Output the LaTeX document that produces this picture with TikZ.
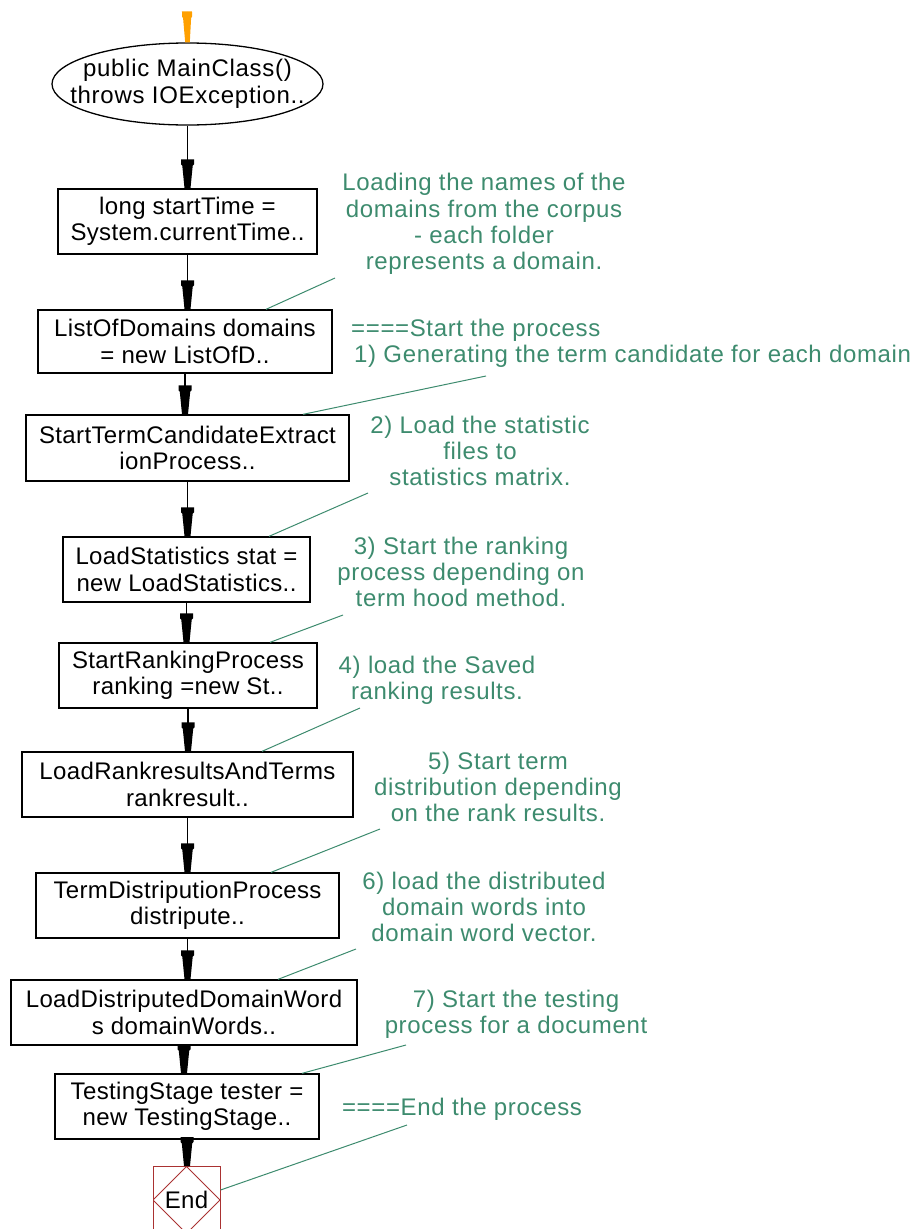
\documentclass[tikz,border=0pt]{standalone}
\usepackage{fontspec}
\setmainfont{Liberation Sans}
\newfontfamily\boxfont[LetterSpace=1.5]{Liberation Sans}
\newfontfamily\notefont[LetterSpace=2.7]{Liberation Sans}
\newfontfamily\startfont[LetterSpace=3]{Liberation Sans}
\usetikzlibrary{shapes.geometric,arrows.meta}

\definecolor{notegreen}{RGB}{61,139,110}
\definecolor{endred}{RGB}{170,50,50}
\definecolor{startorange}{RGB}{255,160,0}

% Blunt, tapered arrow head used by the flow connectors
\pgfdeclarearrow{
  name = Block,
  parameters = {\the\pgfarrowlength,\the\pgfarrowwidth},
  setup code = {
    \pgfarrowssettipend{0pt}
    \pgfarrowssetbackend{-\pgfarrowlength}
    \pgfarrowssetvisualbackend{-\pgfarrowlength}
    \pgfarrowssetlineend{-.5\pgfarrowlength}
    \pgfarrowssavethe\pgfarrowlength
    \pgfarrowssavethe\pgfarrowwidth
  },
  drawing code = {
    \pgfpathmoveto{\pgfpoint{0pt}{.23\pgfarrowwidth}}
    \pgfpathlineto{\pgfpoint{-.78\pgfarrowlength}{.4\pgfarrowwidth}}
    \pgfpathlineto{\pgfpoint{-.83\pgfarrowlength}{.5\pgfarrowwidth}}
    \pgfpathlineto{\pgfpoint{-\pgfarrowlength}{.5\pgfarrowwidth}}
    \pgfpathlineto{\pgfpoint{-\pgfarrowlength}{-.5\pgfarrowwidth}}
    \pgfpathlineto{\pgfpoint{-.83\pgfarrowlength}{-.5\pgfarrowwidth}}
    \pgfpathlineto{\pgfpoint{-.78\pgfarrowlength}{-.4\pgfarrowwidth}}
    \pgfpathlineto{\pgfpoint{0pt}{-.23\pgfarrowwidth}}
    \pgfpathclose
    \pgfusepathqfill
  },
  defaults = {length = 29pt, width = 13pt}
}

\tikzset{
  txt/.style={font=\boxfont\fontsize{24}{26.5}\selectfont, align=center},
  stepbox/.style={txt, rectangle, draw=black, line width=1.3pt, inner sep=0pt},
  startnode/.style={txt, font=\startfont\fontsize{24}{27}\selectfont,
    ellipse, draw=black, line width=1.3pt, inner xsep=-40pt, inner ysep=0pt},
  endnode/.style={txt, rectangle, draw=endred, line width=1pt, inner sep=0pt,
    minimum size=67,
    path picture={\draw[endred, line width=1pt]
      (path picture bounding box.north) -- (path picture bounding box.east) --
      (path picture bounding box.south) -- (path picture bounding box.west) -- cycle;}},
  note/.style={txt, font=\notefont\fontsize{24}{26.3}\selectfont,
    text=notegreen, inner sep=0pt},
  noteline/.style={draw=notegreen, line width=1pt},
  flow/.style={draw=black, line width=1.3pt, -{Block}},
  startflow/.style={draw=startorange, fill=startorange, line width=1pt,
    -{Block[length=31pt, width=10pt]}}
}

\begin{document}
\begin{tikzpicture}[x=1pt, y=-1pt]
  \useasboundingbox (0,0) rectangle (916,1229);

  % entry point
  \coordinate (start) at (187,12);
  \node[startnode, minimum width=271, minimum height=82] (main) at (187.5,84)
    {public MainClass()\\throws IOException..};

  % statement boxes
  \node[stepbox, minimum width=259, minimum height=65] (b1) at (187.5,221.5)
    {long startTime =\\System.currentTime..};
  \node[stepbox, minimum width=294, minimum height=63] (b2) at (185,341.5)
    {ListOfDomains domains\\= new ListOfD..};
  \node[stepbox, minimum width=323, minimum height=66] (b3) at (187.5,448)
    {StartTermCandidateExtract\\ionProcess..};
  \node[stepbox, minimum width=247, minimum height=65] (b4) at (186.5,569.5)
    {LoadStatistics stat =\\new LoadStatistics..};
  \node[stepbox, minimum width=258, minimum height=65] (b5) at (188,675.5)
    {StartRankingProcess\\ranking =new St..};
  \node[stepbox, minimum width=331, minimum height=65] (b6) at (187.5,784.5)
    {LoadRankresultsAndTerms\\rankresult..};
  \node[stepbox, minimum width=303, minimum height=65] (b7) at (187.5,905.5)
    {TermDistriputionProcess\\distripute..};
  \node[stepbox, minimum width=346, minimum height=65] (b8) at (184,1012.5)
    {LoadDistriputedDomainWord\\s domainWords..};
  \node[stepbox, minimum width=264, minimum height=65] (b9) at (187,1106.5)
    {TestingStage tester =\\new TestingStage..};
  \node[endnode] (end) at (186.5,1200) {End};

  % control flow
  \draw[startflow] (start) -- (main.north);
  \draw[flow] (main.south) -- (main.south |- b1.north);
  \draw[flow] (b1.south) -- (b1.south |- b2.north);
  \draw[flow] (b2.south) -- (b2.south |- b3.north);
  \draw[flow] (b3.south) -- (b3.south |- b4.north);
  \draw[flow] (b4.south) -- (b4.south |- b5.north);
  \draw[flow] (b5.south) -- (b5.south |- b6.north);
  \draw[flow] (b6.south) -- (b6.south |- b7.north);
  \draw[flow] (b7.south) -- (b7.south |- b8.north);
  \draw[flow] (b8.south) -- (b8.south |- b9.north);
  \draw[flow] (b9.south) -- (b9.south |- end.north);

  % comments
  \node[note] (c0) at (484,224)
    {Loading the names of the\\domains from the corpus\\- each folder\\represents a domain.};
  \node[note, align=left, anchor=west] (c1) at (351,343)
    {====Start the process\\\hspace*{3pt}1) Generating the term candidate for each domain};
  \node[note] (c2) at (480,451) {2) Load the statistic\\files to\\statistics matrix.};
  \node[note] (c3) at (461,572) {3) Start the ranking\\process depending on\\term hood method.};
  \node[note] (c4) at (437,680) {4) load the Saved\\ranking results.};
  \node[note] (c5) at (498,787) {5) Start term\\distribution depending\\on the rank results.};
  \node[note] (c6) at (484,907) {6) load the distributed\\domain words into\\domain word vector.};
  \node[note] (c7) at (516,1014) {7) Start the testing\\process for a document};
  \node[note] (c8) at (462,1109) {====End the process};

  % comment anchors
  \coordinate (n0) at (335,278);
  \coordinate (n1) at (486,376);
  \coordinate (n2) at (368,493);
  \coordinate (n3) at (343,615);
  \coordinate (n4) at (360,708);
  \coordinate (n5) at (380,829);
  \coordinate (n6) at (356,949);
  \coordinate (n7) at (406,1045);
  \coordinate (n8) at (407,1125);

  \draw[noteline] (n0) -- ([xshift=81pt]b2.north);
  \draw[noteline] (n1) -- ([xshift=115.5pt]b3.north);
  \draw[noteline] (n2) -- ([xshift=82.5pt]b4.north);
  \draw[noteline] (n3) -- ([xshift=82pt]b5.north);
  \draw[noteline] (n4) -- ([xshift=74.5pt]b6.north);
  \draw[noteline] (n5) -- ([xshift=83.5pt]b7.north);
  \draw[noteline] (n6) -- ([xshift=94pt]b8.north);
  \draw[noteline] (n7) -- ([xshift=115pt]b9.north);
  \draw[noteline] (n8) -- ([yshift=10pt]end.east);
\end{tikzpicture}
\end{document}
